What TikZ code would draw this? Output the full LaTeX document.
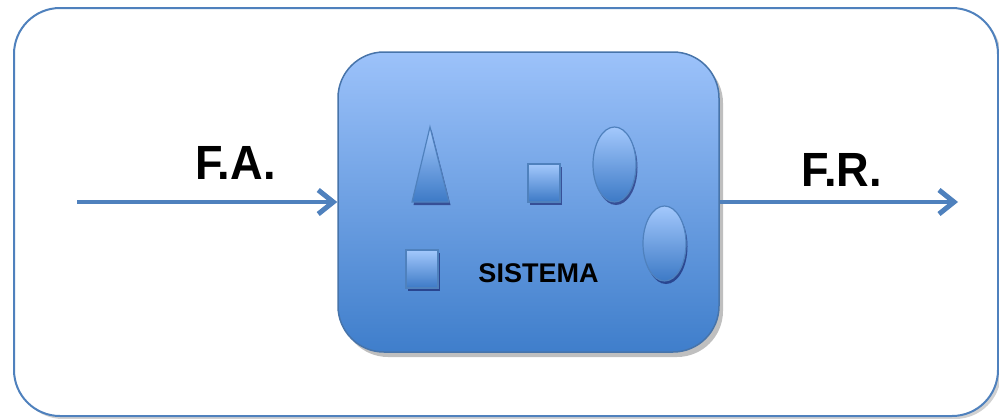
\documentclass[tikz,border=0pt]{standalone}
\usepackage{fontspec}
\setmainfont{Liberation Sans}
\usetikzlibrary{arrows.meta,shapes.geometric,shadows}
\definecolor{edgeblue}{HTML}{4F81BD}
\definecolor{lightblue}{HTML}{9CC2FA}
\definecolor{deepblue}{HTML}{3F7ECB}
\definecolor{shapetop}{HTML}{A3C8FC}
\definecolor{shapebot}{HTML}{3D7AC6}
\tikzset{
  frame/.style={draw=edgeblue, line width=2pt, rounded corners=46pt,
    drop shadow={shadow xshift=3pt, shadow yshift=-3pt, opacity=0.18, fill=black}},
  sysbox/.style={draw=edgeblue!90!black, line width=1.5pt, rounded corners=46pt,
    top color=lightblue, bottom color=deepblue, inner sep=0pt,
    drop shadow={shadow xshift=4pt, shadow yshift=-5pt, opacity=0.25, fill=black}},
  part/.style={draw=edgeblue, line width=1.2pt, top color=shapetop, bottom color=shapebot,
    inner sep=0pt,
    drop shadow={shadow xshift=1.5pt, shadow yshift=-3pt, opacity=0.5, fill=black!70!blue}},
  flow/.style={draw=edgeblue, line width=4.5pt,
    -{Straight Barb[length=15pt, width=24pt, line width=5pt]}},
  biglabel/.style={font=\bfseries\fontsize{48}{48}\selectfont, inner sep=0pt},
  syslabel/.style={font=\bfseries\fontsize{27}{27}\selectfont, inner sep=0pt}
}
\begin{document}
\begin{tikzpicture}[x=1pt, y=-1pt]
  \useasboundingbox (0,0) rectangle (999,418);
  % outer frame
  \draw[frame, fill=white] (14,8) rectangle (998,416);
  % the system block
  \node[sysbox, minimum width=381pt, minimum height=300pt] (sys) at (528.5,202) {};
  % parts inside the system
  \draw[part] (412,202) -- (430,127) -- (449,202) -- cycle;
  \node[part, rectangle, minimum width=32pt, minimum height=38pt] (sqa) at (544,183) {};
  \node[part, rectangle, minimum width=32pt, minimum height=38pt] (sqb) at (422,269) {};
  \node[part, ellipse, minimum width=43pt, minimum height=75pt] (ela) at (614.5,164.5) {};
  \node[part, ellipse, minimum width=43pt, minimum height=75pt] (elb) at (664.5,243.5) {};
  \node[syslabel] (systxt) at (538.5,273) {SISTEMA};
  % input and output flows
  \coordinate (src) at (77,202);
  \coordinate (snk) at (958,202);
  \draw[flow] (src) -- (src -| sys.west);
  \draw[flow] (snk -| sys.east) -- (snk);
  \node[biglabel, xscale=0.94] (fa) at (235.5,163) {F.A.};
  \node[biglabel, xscale=0.94] (fr) at (841.5,170) {F.R.};
\end{tikzpicture}
\end{document}
